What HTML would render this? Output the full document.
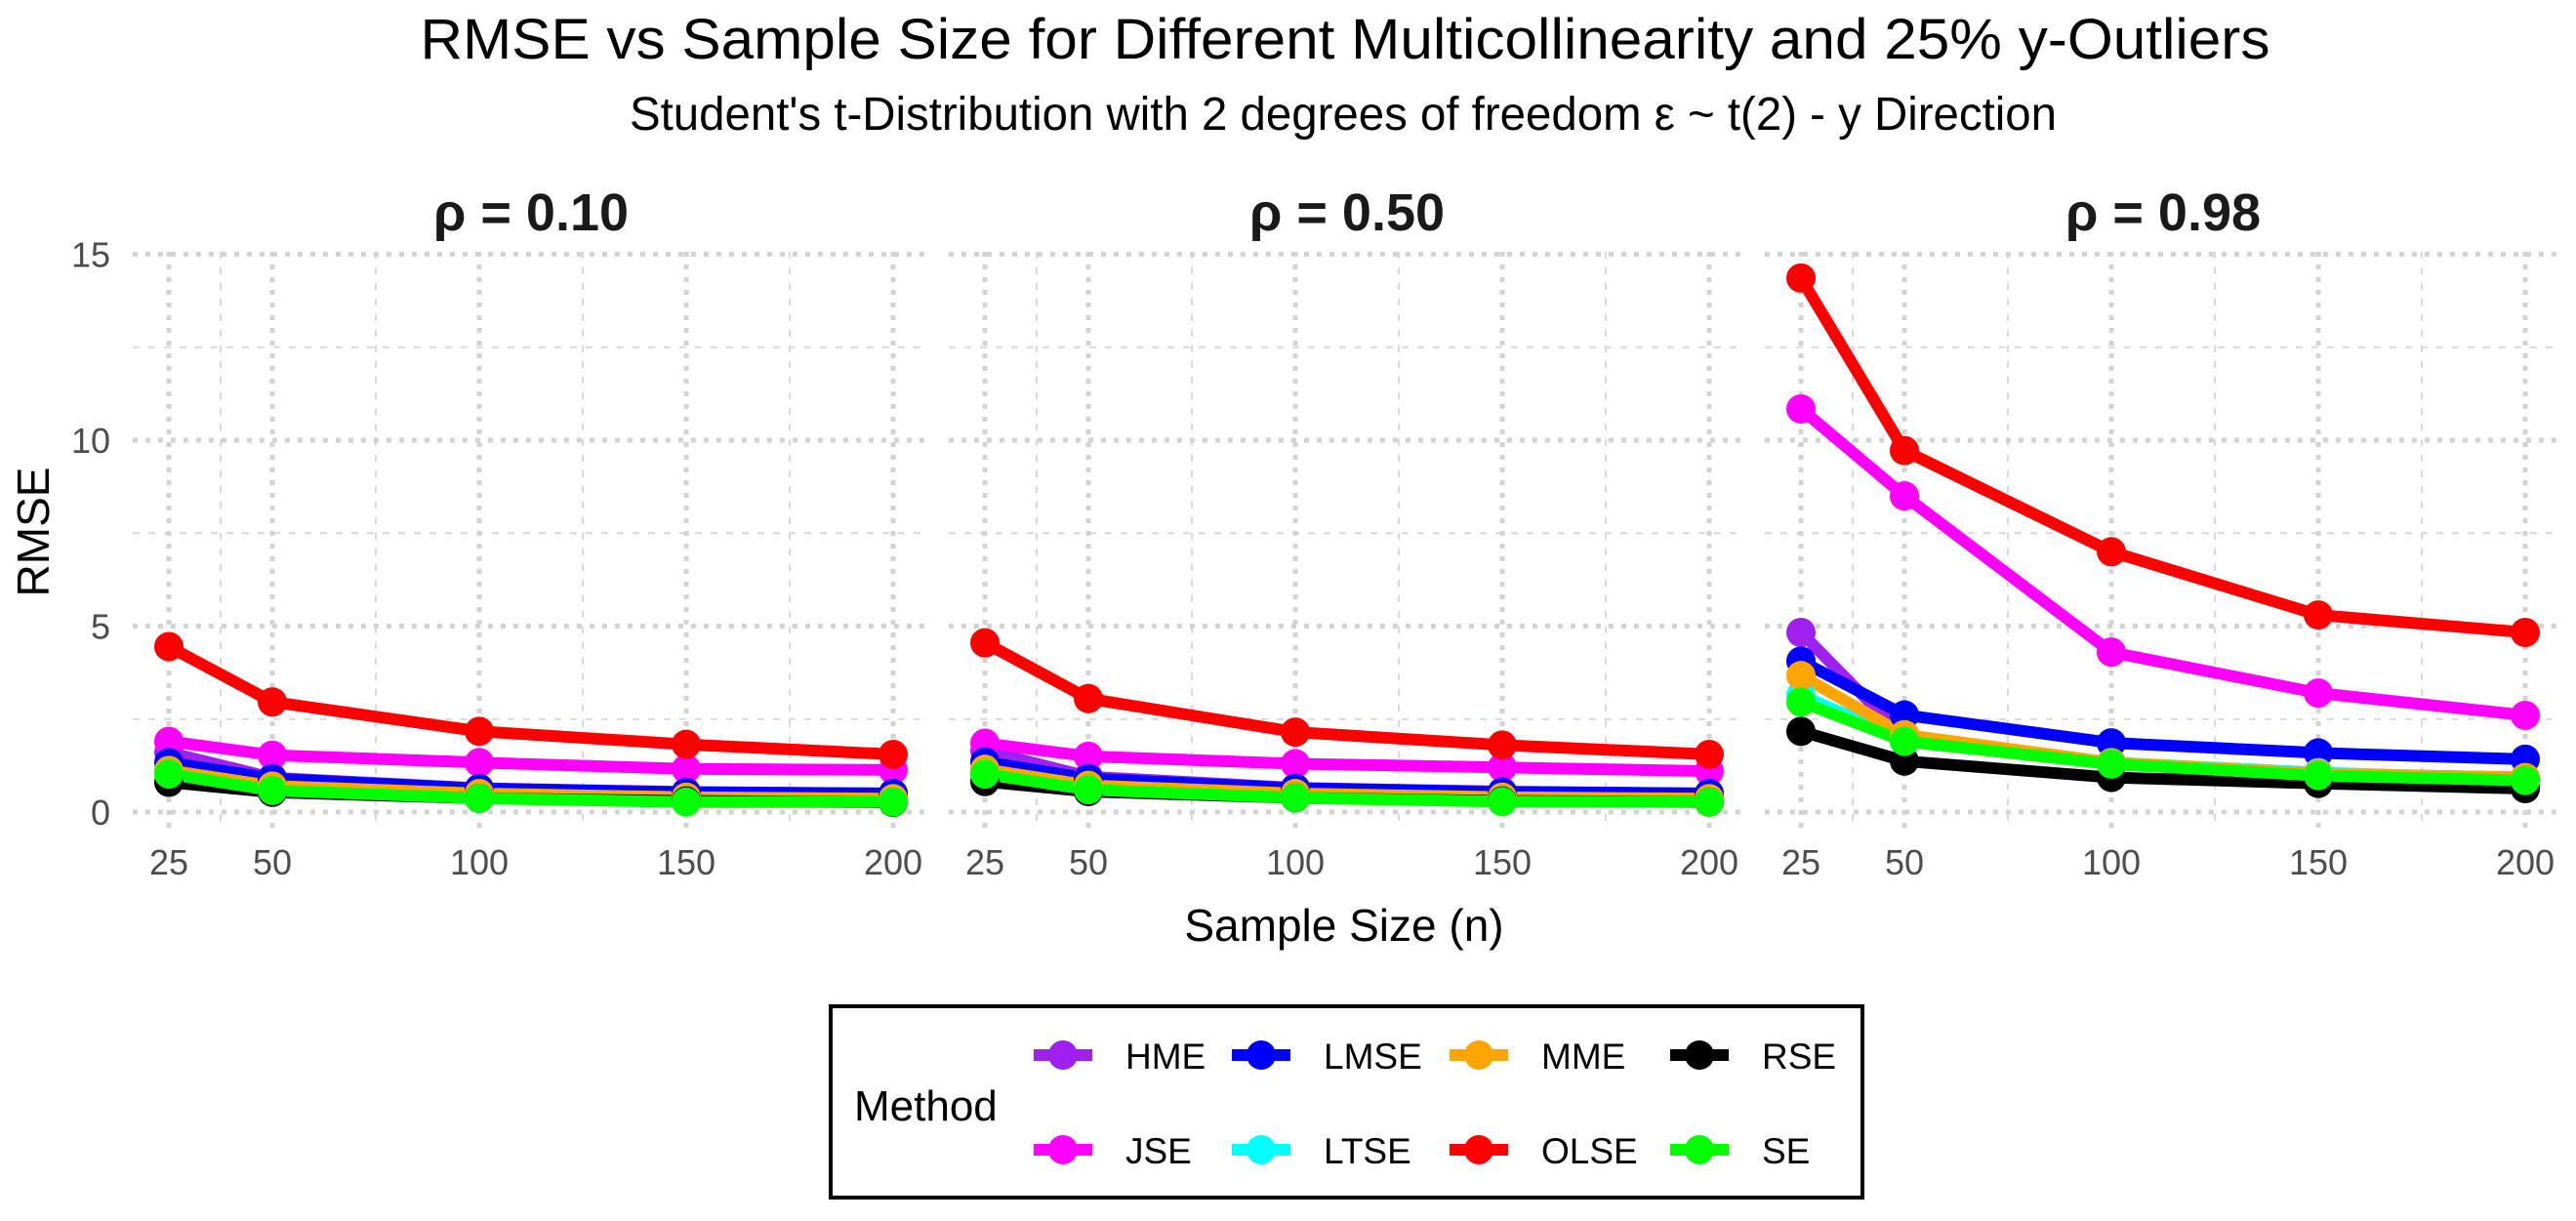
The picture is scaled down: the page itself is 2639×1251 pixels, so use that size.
<!DOCTYPE html>
<html><head><meta charset="utf-8"><style>
html,body{margin:0;padding:0;background:#fff;}
svg{display:block;font-family:"Liberation Sans",sans-serif;}
</style></head><body>
<svg id="chart" width="2639" height="1251" viewBox="0 0 2639 1251" xmlns="http://www.w3.org/2000/svg">
<text x="1378" y="60" font-size="58" text-anchor="middle" fill="#000" textLength="1895" lengthAdjust="spacingAndGlyphs">RMSE vs Sample Size for Different Multicollinearity and 25% y-Outliers</text>
<text x="1376" y="133" font-size="48" text-anchor="middle" fill="#000" textLength="1462" lengthAdjust="spacingAndGlyphs">Student's t-Distribution with 2 degrees of freedom ε ~ t(2) - y Direction</text>
<g id="grid"></g><g id="lines"></g><g id="points"></g><g id="axes"></g>
<text x="0" y="0" font-size="46" text-anchor="middle" fill="#000" transform="translate(50,545) rotate(-90)">RMSE</text>
<text x="1377" y="964" font-size="46" text-anchor="middle" fill="#000">Sample Size (n)</text>
<g>
<rect x="851" y="1031" width="1057" height="196" fill="#fff" stroke="#000" stroke-width="4"/>
<text x="875" y="1148" font-size="44" fill="#000">Method</text>
<g id="legend-items"></g>
</g>
</svg>
<script>
const methods = ["HME","JSE","LMSE","LTSE","MME","OLSE","RSE","SE"];
const colors = ["#a020f0","#ff00ff","#0000ff","#00ffff","#ffa500","#ff0000","#000000","#00ff00"];
const sampleSizes = [25,50,100,150,200];
const panelTitles = ["ρ = 0.10","ρ = 0.50","ρ = 0.98"];
const yTicks = [0,5,10,15];
const xTicks = [25,50,100,150,200];
const rho010 = [
  [1.60,0.92,0.64,0.54,0.50],
  [1.90,1.53,1.33,1.16,1.13],
  [1.33,0.90,0.63,0.53,0.50],
  [1.05,0.60,0.39,0.29,0.28],
  [1.12,0.70,0.50,0.40,0.36],
  [4.45,2.96,2.17,1.82,1.55],
  [0.80,0.53,0.37,0.30,0.26],
  [1.02,0.58,0.37,0.27,0.27]
];
const rho050 = [
  [1.65,0.95,0.65,0.55,0.50],
  [1.85,1.50,1.30,1.20,1.10],
  [1.35,0.90,0.64,0.54,0.50],
  [1.05,0.62,0.40,0.30,0.28],
  [1.15,0.72,0.50,0.40,0.36],
  [4.55,3.05,2.15,1.80,1.55],
  [0.82,0.55,0.38,0.30,0.27],
  [1.02,0.60,0.38,0.28,0.27]
];
const rho098 = [
  [4.83,2.00,1.33,1.03,0.93],
  [10.84,8.50,4.30,3.20,2.60],
  [4.06,2.61,1.86,1.59,1.42],
  [3.14,1.95,1.33,1.06,0.90],
  [3.67,2.08,1.33,1.03,0.93],
  [14.36,9.72,7.00,5.30,4.83],
  [2.17,1.37,0.93,0.77,0.63],
  [2.96,1.90,1.29,0.98,0.85]
];
const panelData = [rho010, rho050, rho098];

const NS = "http://www.w3.org/2000/svg";
const PANEL_OFFSET = 836, X25 = 173, XSCALE = 4.24, Y0 = 832, YSCALE = 38.1;
const PTOP = 258, PBOT = 848;
function xPos(p, v){ return X25 + p*PANEL_OFFSET + (v-25)*XSCALE; }
function yPos(v){ return Y0 - v*YSCALE; }
function mk(tag, attrs, parent){ const e=document.createElementNS(NS,tag); for(const k in attrs) e.setAttribute(k,attrs[k]); parent.appendChild(e); return e; }
const grid=document.getElementById('grid'), lines=document.getElementById('lines'), pts=document.getElementById('points'), axes=document.getElementById('axes');
const minorY=[2.5,7.5,12.5], minorX=[37.5,75,125,175];
for(let p=0;p<3;p++){
  const xl=xPos(p,16.25), xr=xPos(p,208.75);
  minorY.forEach(v=>{ const l=mk('line',{x1:xl,x2:xr,y1:yPos(v),y2:yPos(v),stroke:'#d9d9d9','stroke-width':2,'stroke-dasharray':'7 9'},grid);
    
     });
  minorX.forEach(v=>{ const l=mk('line',{x1:xPos(p,v),x2:xPos(p,v),y1:PTOP,y2:PBOT,stroke:'#d9d9d9','stroke-width':2,'stroke-dasharray':'7 9'},grid);
    
     });
  yTicks.forEach(v=>{ const l=mk('line',{x1:xl,x2:xr,y1:yPos(v),y2:yPos(v),stroke:'#d3d3d3','stroke-width':5,'stroke-dasharray':'5 8'},grid);
    
     });
  xTicks.forEach(v=>{ const l=mk('line',{x1:xPos(p,v),x2:xPos(p,v),y1:PTOP,y2:PBOT,stroke:'#d3d3d3','stroke-width':5,'stroke-dasharray':'5 8'},grid);
    
    
    const t=mk('text',{x:xPos(p,v),y:896,'font-size':36,'text-anchor':'middle',fill:'#4d4d4d'},axes); t.textContent=v;
    
     });
  const st=mk('text',{x:(xl+xr)/2,y:236,'font-size':54,'font-weight':'bold','text-anchor':'middle',fill:'#1a1a1a'},axes); st.textContent=panelTitles[p];
  
  
  const data=panelData[p];
  data.forEach((series,m)=>{
    const d=series.map((v,i)=>(i?'L':'M')+xPos(p,sampleSizes[i]).toFixed(1)+','+yPos(v).toFixed(1)).join(' ');
    const pl=mk('path',{d:d,fill:'none',stroke:colors[m],'stroke-width':12,'stroke-linejoin':'round'},lines);
    
    
  });
  data.forEach((series,m)=>{
    series.forEach((v,i)=>{
      const c=mk('circle',{cx:xPos(p,sampleSizes[i]),cy:yPos(v),r:15,fill:colors[m]},pts);
      
      
    });
  });
}
yTicks.forEach(v=>{ const t=mk('text',{x:113,y:yPos(v)+13,'font-size':36,'text-anchor':'end',fill:'#4d4d4d'},axes); t.textContent=v;
  
   });
const li=document.getElementById('legend-items');
const colX=[1089,1292,1515,1741], rowY=[1081,1178];
methods.forEach((m,k)=>{
  const col=Math.floor(k/2), row=k%2;
  const cx=colX[col], cy=rowY[row];
  const g=mk('g',{},li);
  
  
  mk('line',{x1:cx-30,x2:cx+30,y1:cy,y2:cy,stroke:colors[k],'stroke-width':12},g);
  mk('circle',{cx:cx,cy:cy,r:15,fill:colors[k]},g);
  const t=mk('text',{x:cx+64,y:cy+14,'font-size':37,fill:'#000'},g); t.textContent=m;
});
</script>
</body></html>
